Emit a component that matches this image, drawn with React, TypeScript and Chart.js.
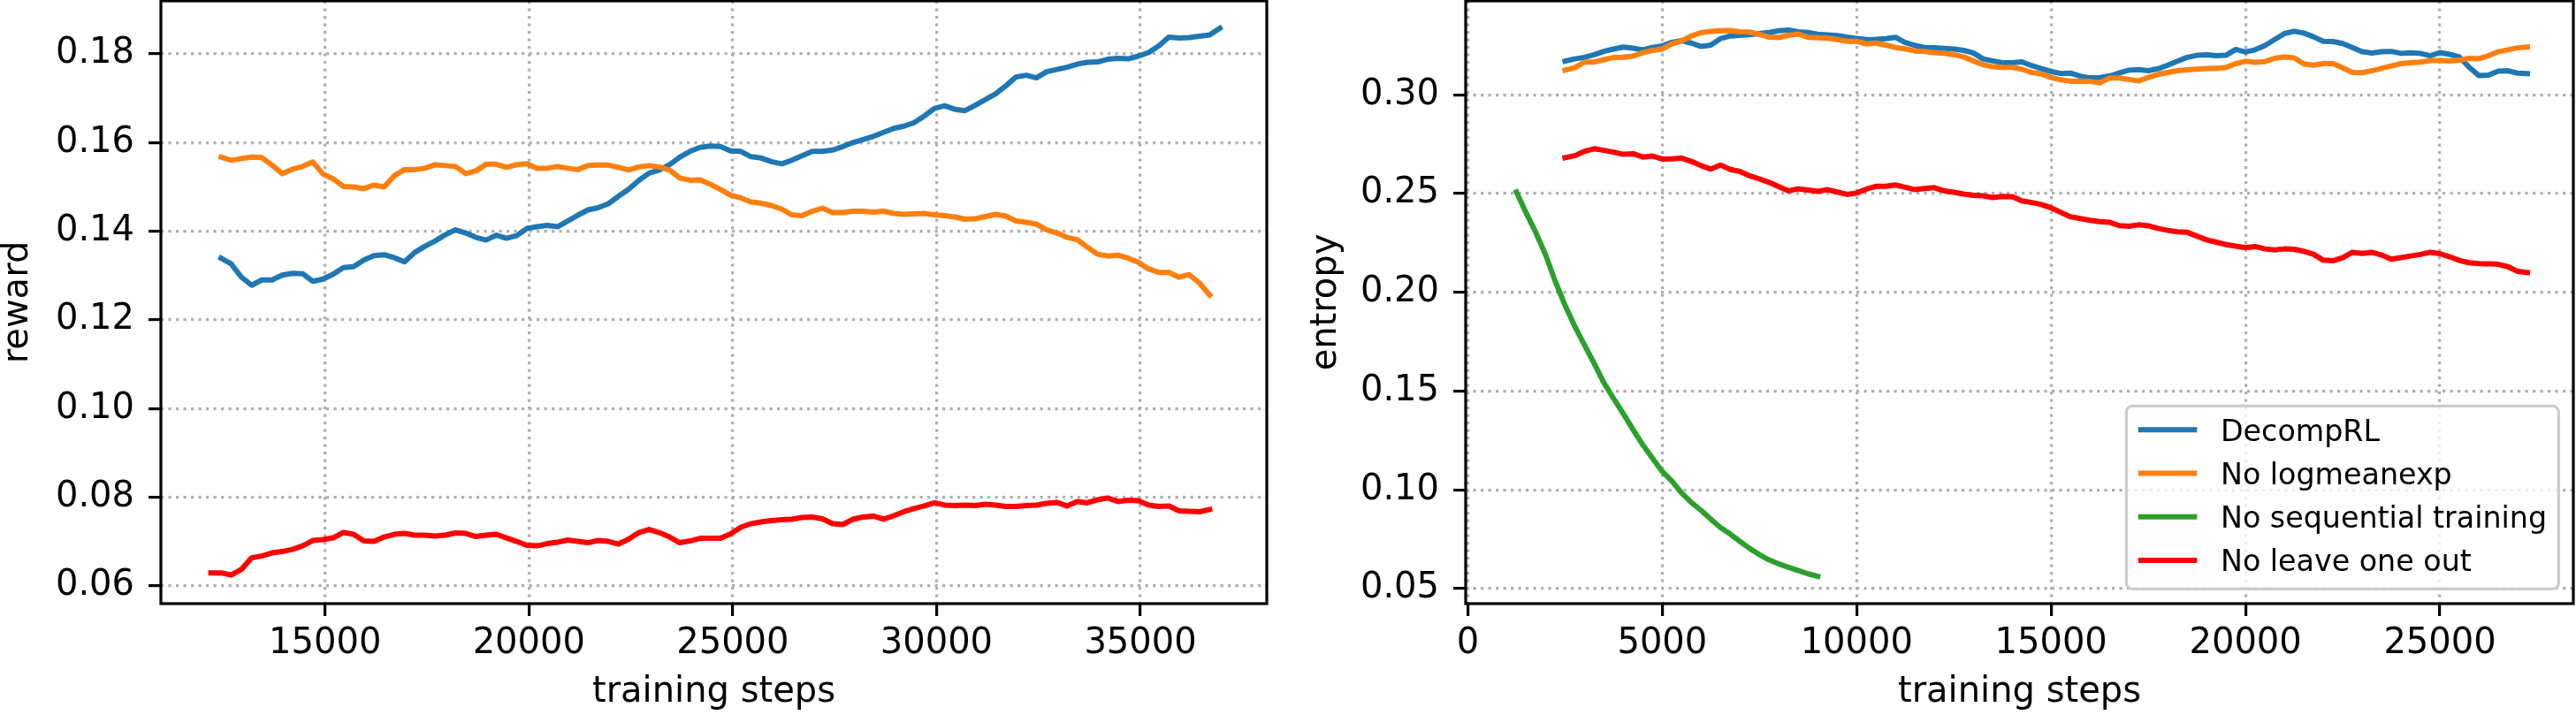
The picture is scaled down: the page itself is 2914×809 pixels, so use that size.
import React, { useEffect, useRef } from "react";
import { Chart, registerables } from "chart.js";

Chart.register(...registerables);

const FONT = '"DejaVu Sans", "Liberation Sans", sans-serif';

// ---- series names and colours ----
const seriesLabels = ["DecompRL", "No logmeanexp", "No sequential training", "No leave one out"];
const seriesColors = ["#1f77b4", "#ff7f0e", "#2ca02c", "#ff0000"];

// ---- reward panel ----
const rewardSteps = [
  12200, 12450, 12700, 12950, 13200, 13450, 13700, 13950, 14200, 14450,
  14700, 14950, 15200, 15450, 15700, 15950, 16200, 16450, 16700, 16950,
  17200, 17450, 17700, 17950, 18200, 18450, 18700, 18950, 19200, 19450,
  19700, 19950, 20200, 20450, 20700, 20950, 21200, 21450, 21700, 21950,
  22200, 22450, 22700, 22950, 23200, 23450, 23700, 23950, 24200, 24450,
  24700, 24950, 25200, 25450, 25700, 25950, 26200, 26450, 26700, 26950,
  27200, 27450, 27700, 27950, 28200, 28450, 28700, 28950, 29200, 29450,
  29700, 29950, 30200, 30450, 30700, 30950, 31200, 31450, 31700, 31950,
  32200, 32450, 32700, 32950, 33200, 33450, 33700, 33950, 34200, 34450,
  34700, 34950, 35200, 35450, 35700, 35950, 36200, 36450, 36700, 36950,
];

const decompRLReward = [
  null, 0.1339, 0.1326, 0.1296, 0.1278, 0.1290, 0.1290, 0.1301, 0.1305, 0.1304,
  0.1287, 0.1292, 0.1303, 0.1318, 0.1320, 0.1335, 0.1345, 0.1347, 0.1340, 0.1331,
  0.1352, 0.1366, 0.1378, 0.1392, 0.1403, 0.1396, 0.1386, 0.1380, 0.1391, 0.1384,
  0.1390, 0.1406, 0.1410, 0.1413, 0.1410, 0.1423, 0.1436, 0.1448, 0.1453, 0.1462,
  0.1479, 0.1495, 0.1515, 0.1531, 0.1538, 0.1550, 0.1567, 0.1580, 0.1589, 0.1592,
  0.1591, 0.1581, 0.1580, 0.1568, 0.1565, 0.1557, 0.1552, 0.1560, 0.1570, 0.1580,
  0.1580, 0.1583, 0.1591, 0.1600, 0.1607, 0.1614, 0.1623, 0.1632, 0.1637, 0.1645,
  0.1660, 0.1677, 0.1683, 0.1675, 0.1672, 0.1684, 0.1697, 0.1710, 0.1728, 0.1748,
  0.1752, 0.1746, 0.1760, 0.1765, 0.1770, 0.1777, 0.1781, 0.1782, 0.1788, 0.1790,
  0.1789, 0.1795, 0.1803, 0.1818, 0.1838, 0.1836, 0.1837, 0.1840, 0.1843, 0.1858,
];

const noLogmeanexpReward = [
  null, 0.1567, 0.1560, 0.1564, 0.1567, 0.1566, 0.1549, 0.1530, 0.1540, 0.1546,
  0.1556, 0.1529, 0.1518, 0.1501, 0.1500, 0.1496, 0.1504, 0.1500, 0.1525, 0.1539,
  0.1539, 0.1542, 0.1550, 0.1548, 0.1546, 0.1530, 0.1536, 0.1551, 0.1551, 0.1544,
  0.1550, 0.1552, 0.1542, 0.1542, 0.1546, 0.1542, 0.1539, 0.1548, 0.1549, 0.1549,
  0.1544, 0.1538, 0.1545, 0.1548, 0.1545, 0.1538, 0.1520, 0.1515, 0.1516, 0.1506,
  0.1494, 0.1481, 0.1475, 0.1466, 0.1463, 0.1458, 0.1450, 0.1437, 0.1435, 0.1445,
  0.1452, 0.1442, 0.1442, 0.1445, 0.1445, 0.1443, 0.1445, 0.1440, 0.1438, 0.1439,
  0.1440, 0.1437, 0.1435, 0.1432, 0.1427, 0.1428, 0.1433, 0.1438, 0.1434, 0.1423,
  0.1420, 0.1416, 0.1403, 0.1396, 0.1386, 0.1381, 0.1364, 0.1348, 0.1344, 0.1346,
  0.1339, 0.1330, 0.1315, 0.1307, 0.1307, 0.1296, 0.1302, 0.1283, 0.1256, null,
];

const noLooReward = [
  0.0629, 0.0629, 0.0624, 0.0637, 0.0663, 0.0667, 0.0674, 0.0677, 0.0682, 0.0690,
  0.0702, 0.0704, 0.0708, 0.0720, 0.0716, 0.0701, 0.0700, 0.0710, 0.0716, 0.0718,
  0.0714, 0.0714, 0.0712, 0.0714, 0.0719, 0.0718, 0.0711, 0.0714, 0.0716, 0.0708,
  0.0700, 0.0691, 0.0690, 0.0695, 0.0698, 0.0703, 0.0700, 0.0697, 0.0702, 0.0700,
  0.0694, 0.0705, 0.0720, 0.0727, 0.0720, 0.0710, 0.0697, 0.0701, 0.0707, 0.0707,
  0.0707, 0.0717, 0.0732, 0.0740, 0.0744, 0.0747, 0.0749, 0.0750, 0.0754, 0.0755,
  0.0751, 0.0740, 0.0738, 0.0750, 0.0755, 0.0757, 0.0750, 0.0758, 0.0767, 0.0774,
  0.0780, 0.0787, 0.0782, 0.0781, 0.0782, 0.0781, 0.0784, 0.0782, 0.0779, 0.0779,
  0.0781, 0.0782, 0.0786, 0.0788, 0.0780, 0.0790, 0.0787, 0.0794, 0.0798, 0.0790,
  0.0793, 0.0792, 0.0782, 0.0779, 0.0780, 0.0769, 0.0768, 0.0767, 0.0772, null,
];

const rewardXTicks = [15000, 20000, 25000, 30000, 35000];
const rewardYTicks = [0.06, 0.08, 0.10, 0.12, 0.14, 0.16, 0.18];
const rewardXRange = [10973, 38101];
const rewardYRange = [0.05595, 0.19197];

// ---- entropy panel ----
const entropySteps = [
  1250, 1500, 1750, 2000, 2250, 2500, 2750, 3000, 3250, 3500,
  3750, 4000, 4250, 4500, 4750, 5000, 5250, 5500, 5750, 6000,
  6250, 6500, 6750, 7000, 7250, 7500, 7750, 8000, 8250, 8500,
  8750, 9000, 9250, 9500, 9750, 10000, 10250, 10500, 10750, 11000,
  11250, 11500, 11750, 12000, 12250, 12500, 12750, 13000, 13250, 13500,
  13750, 14000, 14250, 14500, 14750, 15000, 15250, 15500, 15750, 16000,
  16250, 16500, 16750, 17000, 17250, 17500, 17750, 18000, 18250, 18500,
  18750, 19000, 19250, 19500, 19750, 20000, 20250, 20500, 20750, 21000,
  21250, 21500, 21750, 22000, 22250, 22500, 22750, 23000, 23250, 23500,
  23750, 24000, 24250, 24500, 24750, 25000, 25250, 25500, 25750, 26000,
  26250, 26500, 26750, 27000, 27250,
];

const decompRLEntropy = [
  null, null, null, null, null, 0.3171, 0.3182, 0.3190, 0.3203, 0.3220,
  0.3232, 0.3242, 0.3236, 0.3228, 0.3240, 0.3248, 0.3266, 0.3274, 0.3262, 0.3245,
  0.3252, 0.3285, 0.3298, 0.3301, 0.3304, 0.3310, 0.3316, 0.3325, 0.3328, 0.3319,
  0.3316, 0.3307, 0.3304, 0.3300, 0.3292, 0.3286, 0.3280, 0.3281, 0.3284, 0.3291,
  0.3265, 0.3250, 0.3240, 0.3238, 0.3235, 0.3232, 0.3225, 0.3212, 0.3182, 0.3172,
  0.3163, 0.3162, 0.3167, 0.3148, 0.3133, 0.3118, 0.3108, 0.3110, 0.3095, 0.3086,
  0.3088, 0.3095, 0.3110, 0.3125, 0.3128, 0.3122, 0.3132, 0.3150, 0.3170, 0.3190,
  0.3200, 0.3203, 0.3198, 0.3200, 0.3230, 0.3217, 0.3228, 0.3250, 0.3280, 0.3310,
  0.3322, 0.3313, 0.3294, 0.3271, 0.3270, 0.3260, 0.3240, 0.3218, 0.3212, 0.3218,
  0.3220, 0.3210, 0.3213, 0.3210, 0.3198, 0.3214, 0.3205, 0.3192, 0.3140, 0.3098,
  0.3100, 0.3120, 0.3122, 0.3110, 0.3107,
];

const noLogmeanexpEntropy = [
  null, null, null, null, null, 0.3125, 0.3137, 0.3166, 0.3166, 0.3178,
  0.3189, 0.3190, 0.3196, 0.3213, 0.3225, 0.3232, 0.3258, 0.3273, 0.3298, 0.3315,
  0.3321, 0.3325, 0.3326, 0.3319, 0.3318, 0.3306, 0.3292, 0.3290, 0.3301, 0.3308,
  0.3291, 0.3289, 0.3287, 0.3280, 0.3271, 0.3271, 0.3258, 0.3262, 0.3252, 0.3240,
  0.3233, 0.3222, 0.3219, 0.3214, 0.3210, 0.3203, 0.3192, 0.3172, 0.3153, 0.3142,
  0.3139, 0.3139, 0.3130, 0.3113, 0.3106, 0.3088, 0.3076, 0.3069, 0.3070, 0.3068,
  0.3060, 0.3085, 0.3085, 0.3078, 0.3070, 0.3088, 0.3103, 0.3113, 0.3122, 0.3127,
  0.3130, 0.3133, 0.3134, 0.3139, 0.3158, 0.3170, 0.3165, 0.3168, 0.3185, 0.3192,
  0.3187, 0.3157, 0.3150, 0.3158, 0.3158, 0.3137, 0.3113, 0.3112, 0.3122, 0.3134,
  0.3146, 0.3158, 0.3162, 0.3166, 0.3174, 0.3174, 0.3171, 0.3176, 0.3185, 0.3183,
  0.3198, 0.3218, 0.3228, 0.3238, 0.3242,
];

const noSeqEntropy = [
  0.2508, 0.2402, 0.2302, 0.2190, 0.2055, 0.1935, 0.1828, 0.1733, 0.1640, 0.1542,
  0.1462, 0.1385, 0.1305, 0.1228, 0.1160, 0.1093, 0.1044, 0.0984, 0.0936, 0.0896,
  0.0851, 0.0809, 0.0776, 0.0739, 0.0703, 0.0672, 0.0645, 0.0625, 0.0608, 0.0591,
  0.0575, 0.0562,
];

const noLooEntropy = [
  null, null, null, null, null, 0.2682, 0.2692, 0.2714, 0.2727, 0.2719,
  0.2710, 0.2699, 0.2702, 0.2685, 0.2690, 0.2675, 0.2676, 0.2680, 0.2663, 0.2642,
  0.2624, 0.2645, 0.2622, 0.2612, 0.2590, 0.2574, 0.2557, 0.2535, 0.2514, 0.2524,
  0.2518, 0.2511, 0.2520, 0.2508, 0.2496, 0.2503, 0.2523, 0.2537, 0.2537, 0.2544,
  0.2532, 0.2520, 0.2526, 0.2530, 0.2514, 0.2507, 0.2498, 0.2491, 0.2489, 0.2480,
  0.2486, 0.2485, 0.2463, 0.2455, 0.2445, 0.2428, 0.2405, 0.2383, 0.2374, 0.2365,
  0.2358, 0.2355, 0.2338, 0.2335, 0.2342, 0.2337, 0.2324, 0.2314, 0.2307, 0.2304,
  0.2285, 0.2266, 0.2254, 0.2242, 0.2234, 0.2226, 0.2232, 0.2220, 0.2215, 0.2220,
  0.2218, 0.2208, 0.2193, 0.2163, 0.2160, 0.2175, 0.2203, 0.2197, 0.2203, 0.2189,
  0.2168, 0.2176, 0.2184, 0.2192, 0.2203, 0.2196, 0.2180, 0.2162, 0.2150, 0.2146,
  0.2145, 0.2142, 0.2130, 0.2106, 0.2100,
];

const entropyXTicks = [0, 5000, 10000, 15000, 20000, 25000];
const entropyYTicks = [0.05, 0.10, 0.15, 0.20, 0.25, 0.30];
const entropyXRange = [-55, 28432];
const entropyYRange = [0.04239, 0.34757];

// ---- helpers ----
function toPoints(steps: number[], values: (number | null)[]) {
  const pts: { x: number; y: number }[] = [];
  for (let i = 0; i < values.length; i++) {
    const v = values[i];
    if (v !== null && v !== undefined) pts.push({ x: steps[i], y: v });
  }
  return pts;
}

function lineDataset(label: string, steps: number[], values: (number | null)[]) {
  const idx = seriesLabels.indexOf(label);
  return {
    label,
    data: toPoints(steps, values),
    borderColor: seriesColors[idx],
    backgroundColor: seriesColors[idx],
    borderWidth: 6,
    pointRadius: 0,
    pointHoverRadius: 0,
    tension: 0,
    fill: false,
    borderJoinStyle: "round",
    borderCapStyle: "square",
    // later series are painted over earlier ones
    order: 10 - idx,
  };
}

// full rectangular frame around the plotting area
const framePlugin = {
  id: "axesFrame",
  afterDatasetsDraw(chart: any) {
    const { ctx, chartArea: a } = chart;
    ctx.save();
    ctx.strokeStyle = "#000";
    ctx.lineWidth = 3.2;
    ctx.lineJoin = "miter";
    ctx.strokeRect(a.left, a.top, a.right - a.left, a.bottom - a.top);
    ctx.restore();
  },
};

// boxed legend in the lower-right corner of the plotting area
const cornerLegendPlugin = {
  id: "cornerLegend",
  afterDraw(chart: any) {
    const { ctx, chartArea: a } = chart;
    const fs = 33.3;
    const borderPad = 0.4 * fs;
    const handleLen = 2.0 * fs;
    const textPad = 0.8 * fs;
    const axesPad = 0.5 * fs;
    const rowPitch = 49.2;
    const boxH = 207;
    ctx.save();
    ctx.font = `${fs}px ${FONT}`;
    const items = chart.data.datasets.map((d: any) => ({ label: d.label, color: d.borderColor }));
    const maxW = Math.max(...items.map((it: any) => ctx.measureText(it.label).width));
    const boxW = 2 * borderPad + handleLen + textPad + maxW;
    const right = a.right - axesPad;
    const bottom = a.bottom - axesPad;
    const left = right - boxW;
    const top = bottom - boxH;

    ctx.beginPath();
    ctx.roundRect(left, top, boxW, boxH, 6.7);
    ctx.fillStyle = "rgba(255,255,255,0.8)";
    ctx.fill();
    ctx.lineWidth = 3.2;
    ctx.strokeStyle = "#cccccc";
    ctx.stroke();

    items.forEach((it: any, i: number) => {
      const baseline = top + 39.2 + i * rowPitch;
      const hy = baseline - 12.2;
      ctx.beginPath();
      ctx.moveTo(left + borderPad, hy);
      ctx.lineTo(left + borderPad + handleLen, hy);
      ctx.strokeStyle = it.color;
      ctx.lineWidth = 6;
      ctx.lineCap = "butt";
      ctx.stroke();
      ctx.fillStyle = "#000";
      ctx.textBaseline = "alphabetic";
      ctx.textAlign = "left";
      ctx.fillText(it.label, left + borderPad + handleLen + textPad, baseline);
    });
    ctx.restore();
  },
};

type PanelSpec = {
  xRange: number[];
  yRange: number[];
  xTicks: number[];
  yTicks: number[];
  yAxisWidth: number;
  rightPad: number;
  yTitle: string;
  yTitleOffset: number;
};

function panelOptions(p: PanelSpec) {
  const tickFont = { family: FONT, size: 40, lineHeight: 1 };
  const grid = {
    display: true,
    color: "#b0b0b0",
    lineWidth: 3.2,
    drawOnChartArea: true,
    drawTicks: true,
    tickLength: 14,
    tickColor: "#000",
    tickWidth: 3.2,
    tickBorderDash: [],
  };
  const border = { display: false, dash: [3.2, 5.3], dashOffset: 0 };
  return {
    animation: false,
    responsive: false,
    maintainAspectRatio: false,
    devicePixelRatio: 1,
    events: [],
    layout: { padding: { left: 0, top: 1, right: p.rightPad, bottom: 0 } },
    plugins: { legend: { display: false }, tooltip: { enabled: false } },
    scales: {
      x: {
        type: "linear",
        bounds: "data",
        min: p.xRange[0],
        max: p.xRange[1],
        afterBuildTicks: (s: any) => {
          s.ticks = p.xTicks.map((v) => ({ value: v }));
        },
        afterFit: (s: any) => {
          s.height = 126;
          s.paddingLeft = 0;
          s.paddingRight = 0;
        },
        ticks: {
          autoSkip: false,
          maxRotation: 0,
          minRotation: 0,
          padding: 12,
          color: "#000",
          font: tickFont,
          callback: (v: any) => String(v),
        },
        grid,
        border,
        title: {
          display: true,
          text: "training steps",
          color: "#000",
          font: { family: FONT, size: 40, lineHeight: 1 },
          padding: { top: 0, bottom: 5 },
        },
      },
      y: {
        type: "linear",
        bounds: "data",
        min: p.yRange[0],
        max: p.yRange[1],
        afterBuildTicks: (s: any) => {
          s.ticks = p.yTicks.map((v) => ({ value: v }));
        },
        afterFit: (s: any) => {
          s.width = p.yAxisWidth;
          s.paddingTop = 0;
          s.paddingBottom = 0;
        },
        ticks: {
          autoSkip: false,
          padding: 16,
          color: "#000",
          font: tickFont,
          callback: (v: any) => Number(v).toFixed(2),
        },
        grid,
        border,
        title: {
          display: true,
          text: p.yTitle,
          color: "#000",
          font: { family: FONT, size: 40, lineHeight: 1 },
          padding: { top: p.yTitleOffset, bottom: 0 },
        },
      },
    },
  };
}

function rewardConfig(): any {
  return {
    type: "line",
    data: {
      datasets: [
        lineDataset("DecompRL", rewardSteps, decompRLReward),
        lineDataset("No logmeanexp", rewardSteps, noLogmeanexpReward),
        lineDataset("No leave one out", rewardSteps, noLooReward),
      ],
    },
    options: panelOptions({
      xRange: rewardXRange,
      yRange: rewardYRange,
      xTicks: rewardXTicks,
      yTicks: rewardYTicks,
      yAxisWidth: 182,
      rightPad: 27,
      yTitle: "reward",
      yTitleOffset: 1,
    }),
    plugins: [framePlugin],
  };
}

function entropyConfig(): any {
  return {
    type: "line",
    data: {
      datasets: [
        lineDataset("DecompRL", entropySteps, decompRLEntropy),
        lineDataset("No logmeanexp", entropySteps, noLogmeanexpEntropy),
        lineDataset("No sequential training", entropySteps, noSeqEntropy),
        lineDataset("No leave one out", entropySteps, noLooEntropy),
      ],
    },
    options: panelOptions({
      xRange: entropyXRange,
      yRange: entropyYRange,
      xTicks: entropyXTicks,
      yTicks: entropyYTicks,
      yAxisWidth: 198,
      rightPad: 3,
      yTitle: "entropy",
      yTitleOffset: 21,
    }),
    plugins: [framePlugin, cornerLegendPlugin],
  };
}

export default function App() {
  const rewardRef = useRef<HTMLCanvasElement>(null);
  const entropyRef = useRef<HTMLCanvasElement>(null);

  useEffect(() => {
    const charts: Chart[] = [];
    if (rewardRef.current) charts.push(new Chart(rewardRef.current, rewardConfig()));
    if (entropyRef.current) charts.push(new Chart(entropyRef.current, entropyConfig()));
    return () => charts.forEach((c) => c.destroy());
  }, []);

  return (
    <div
      style={{
        position: "absolute",
        left: 0,
        top: 0,
        width: 2914,
        height: 809,
        background: "#fff",
        overflow: "hidden",
      }}
    >
      <canvas
        ref={rewardRef}
        width={1460}
        height={809}
        style={{ position: "absolute", left: 0, top: 0, width: 1460, height: 809 }}
      />
      <canvas
        ref={entropyRef}
        width={1454}
        height={809}
        style={{ position: "absolute", left: 1460, top: 0, width: 1454, height: 809 }}
      />
    </div>
  );
}
